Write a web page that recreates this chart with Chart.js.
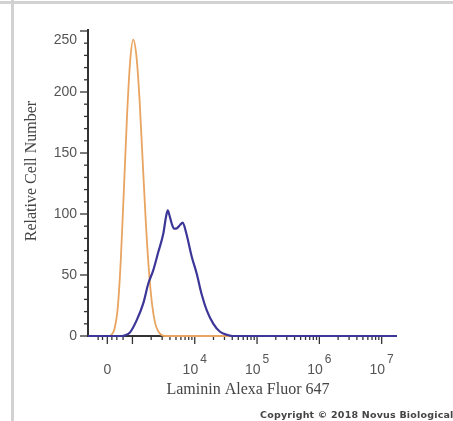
<!DOCTYPE html>
<html>
<head>
<meta charset="utf-8">
<script src="https://cdn.jsdelivr.net/npm/chart.js@4.4.1/dist/chart.umd.min.js"></script>
<style>
  html, body { margin: 0; padding: 0; background: #fff; }
  #frame { position: relative; width: 453px; height: 421px; overflow: hidden; }
  #topbar { position: absolute; left: 0; top: 1px; width: 453px; height: 3px; background: #d2d2d2; }
  #leftbar { position: absolute; left: 11px; top: 0; width: 3px; height: 421px; background: #d2d2d2; }
  canvas { position: absolute; left: 0; top: 0; }
</style>
</head>
<body>
<div id="frame">
  <div id="topbar"></div>
  <div id="leftbar"></div>
  <canvas id="chart1" width="453" height="421"></canvas>
</div>
<script>
// channel positions are in display decades (4 = 10^4)
const blueX = [2.287, 2.833, 2.881, 2.962, 3.069, 3.175, 3.255, 3.335, 3.416, 3.496, 3.540, 3.567, 3.594, 3.631, 3.668, 3.700, 3.764, 3.807, 3.860, 3.952, 4.032, 4.112, 4.193, 4.299, 4.406, 4.514, 4.600, 7.246];
const blueY = [0, 0, 0.5, 3, 13, 27, 43, 54, 69, 84, 98, 103, 99, 92, 88, 88, 91, 93, 85, 65, 51, 34, 21, 10, 3.5, 1, 0, 0];

const orangeX = [2.287, 2.613, 2.663, 2.713, 2.763, 2.813, 2.863, 2.913, 2.963, 3.013, 3.063, 3.113, 3.163, 3.213, 3.263, 3.313, 3.363, 3.413, 3.463, 3.513, 7.246];
const orangeY = [0, 0, 1, 6, 22, 62, 120, 180, 225, 243, 230, 195, 145, 95, 55, 27, 11, 4, 1, 0, 0];

// axis ticks
const xTickValues = [2.597, 4, 5, 6, 7];
const xTickBase = ['0', '10', '10', '10', '10'];
const xTickExp = ['', '4', '5', '6', '7'];
const yTicks = [0, 50, 100, 150, 200, 250];

const xMin = 2.287, xMax = 7.246;
const yMin = 0, yMax = 250;

function toPoints(xs, ys) {
    return xs.map((x, i) => ({ x: x, y: ys[i] }));
}

// axes, ticks and labels drawn with the chart's own scales
const axisPlugin = {
    id: 'flowAxes',
    beforeDatasetsDraw(chart) {
        const ctx = chart.ctx;
        const xs = chart.scales.x, ys = chart.scales.y;
        const area = chart.chartArea;
        ctx.save();
        ctx.strokeStyle = '#333';
        ctx.lineWidth = 2;
        ctx.beginPath();
        ctx.moveTo(area.left, area.top - 2);
        ctx.lineTo(area.left, area.bottom);
        ctx.lineTo(area.right, area.bottom);
        ctx.stroke();

        // y ticks every 10, major every 50
        ctx.lineWidth = 1.3;
        for (let v = yMin; v <= yMax; v += 10) {
            const py = ys.getPixelForValue(v);
            const len = (v % 50 === 0) ? 8 : 4;
            ctx.beginPath();
            ctx.moveTo(area.left - len, py);
            ctx.lineTo(area.left + 1, py);
            ctx.stroke();
        }

        // x ticks: majors at the labels, log minors inside decades
        const minors = [2.45, 2.52, 2.67, 2.75, 2.85];
        for (let d = 3; d < 7; d++) {
            for (let m = 2; m <= 9; m++) minors.push(d + Math.log10(m));
        }
        minors.forEach(v => {
            const px = xs.getPixelForValue(v);
            ctx.beginPath();
            ctx.moveTo(px, area.bottom);
            ctx.lineTo(px, area.bottom + 4);
            ctx.stroke();
        });
        xTickValues.concat([3]).forEach(v => {
            const px = xs.getPixelForValue(v);
            ctx.beginPath();
            ctx.moveTo(px, area.bottom);
            ctx.lineTo(px, area.bottom + 8);
            ctx.stroke();
        });

        // y labels
        ctx.fillStyle = '#555';
        ctx.font = '14px "Liberation Sans", Arial, sans-serif';
        ctx.textAlign = 'right';
        ctx.textBaseline = 'middle';
        yTicks.forEach(v => {
            let py = ys.getPixelForValue(v);
            if (v === yMax) py += 9;
            ctx.fillText(String(v), area.left - 11, py);
        });

        // x labels with superscripts
        ctx.textBaseline = 'middle';
        xTickValues.forEach((v, i) => {
            const px = xs.getPixelForValue(v);
            ctx.font = '14px "Liberation Sans", Arial, sans-serif';
            const wb = ctx.measureText(xTickBase[i]).width;
            ctx.font = '12px "Liberation Sans", Arial, sans-serif';
            const we = xTickExp[i] ? ctx.measureText(xTickExp[i]).width + 2 : 0;
            const start = px - (wb + we) / 2;
            ctx.textAlign = 'left';
            ctx.font = '14px "Liberation Sans", Arial, sans-serif';
            ctx.fillText(xTickBase[i], start, area.bottom + 34);
            if (xTickExp[i]) {
                ctx.font = '12px "Liberation Sans", Arial, sans-serif';
                ctx.fillText(xTickExp[i], start + wb + 2, area.bottom + 24);
            }
        });

        // axis titles
        ctx.font = '16px "Liberation Serif", "Times New Roman", serif';
        ctx.fillStyle = '#444';
        ctx.textAlign = 'center';
        ctx.fillText('Laminin Alexa Fluor 647', 248, area.bottom + 54);
        ctx.save();
        ctx.translate(32, 171);
        ctx.rotate(-Math.PI / 2);
        ctx.fillText('Relative Cell Number', 0, 0);
        ctx.restore();

        // copyright line
        ctx.font = 'bold 9.5px "DejaVu Sans", sans-serif';
        ctx.letterSpacing = '0.2px';
        ctx.fillStyle = '#444';
        ctx.textAlign = 'left';
        ctx.fillText('Copyright \u00A9 2018 Novus Biologicals', 260, 416);
        ctx.restore();
    }
};

const chart1 = new Chart(document.getElementById('chart1').getContext('2d'), {
    type: 'line',
    data: {
        datasets: [{
            label: 'Laminin',
            data: toPoints(blueX, blueY),
            borderColor: 'rgb(60, 54, 152)',
            borderWidth: 2.2,
            pointRadius: 0,
            cubicInterpolationMode: 'monotone',
            clip: 6
        }, {
            label: 'Isotype',
            data: toPoints(orangeX, orangeY),
            borderColor: 'rgb(232, 164, 96)',
            borderWidth: 1.8,
            pointRadius: 0,
            cubicInterpolationMode: 'monotone',
            clip: 6
        }]
    },
    options: {
        responsive: false,
        animation: false,
        devicePixelRatio: 1,
        layout: { padding: { left: 88, top: 31, right: 56, bottom: 85 } },
        plugins: { legend: { display: false }, tooltip: { enabled: false } },
        scales: {
            x: { type: 'linear', min: xMin, max: xMax, display: false },
            y: { type: 'linear', min: yMin, max: yMax, display: false }
        }
    },
    plugins: [axisPlugin]
});
</script>
</body>
</html>
